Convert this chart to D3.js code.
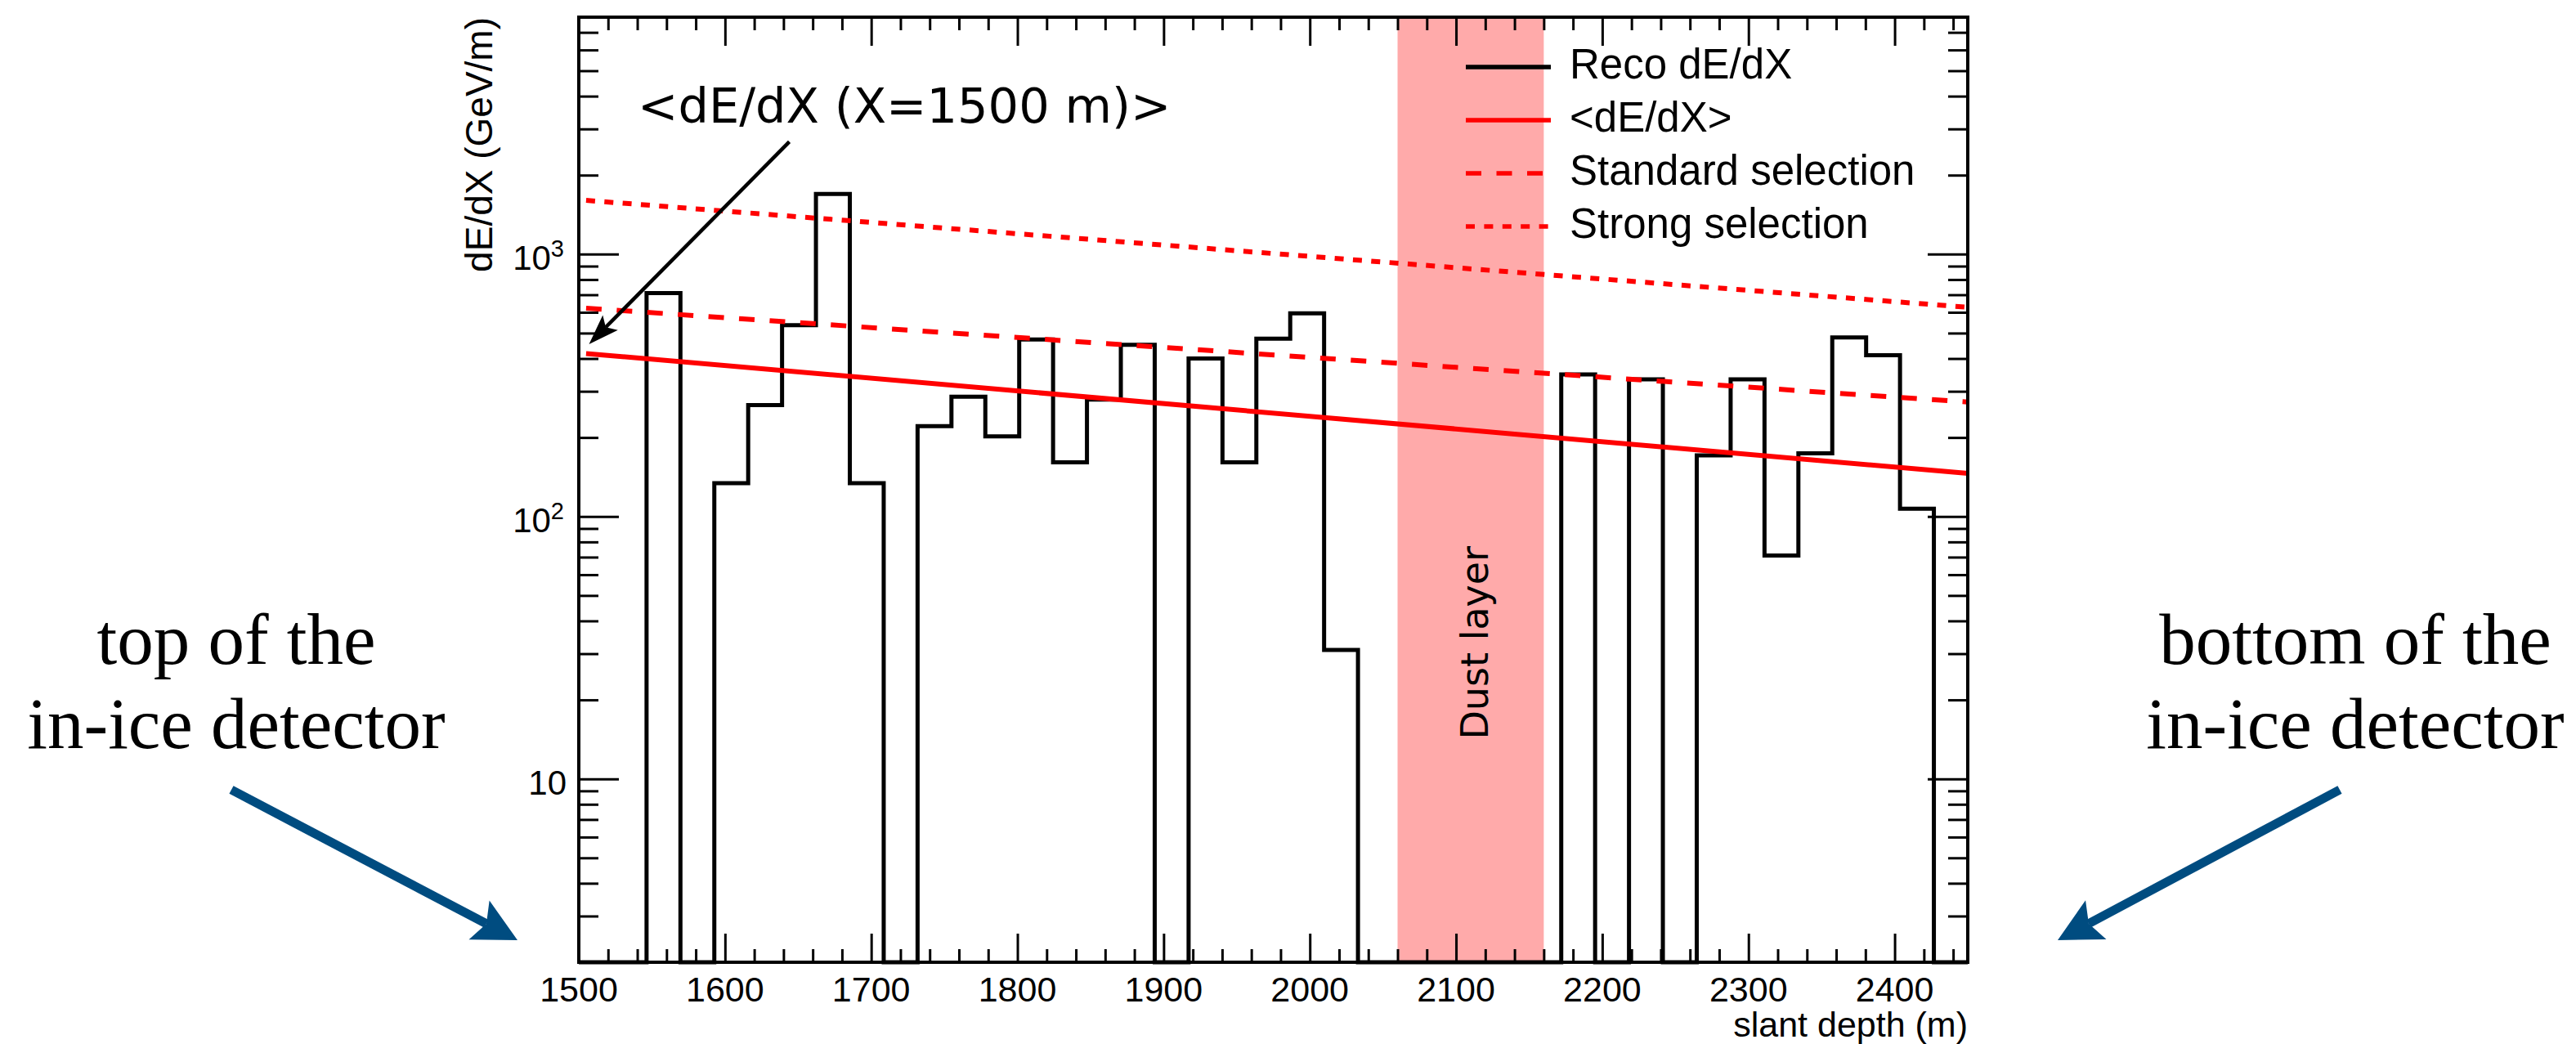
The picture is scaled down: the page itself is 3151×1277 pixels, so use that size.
<!DOCTYPE html>
<html><head><meta charset="utf-8">
<script src="https://cdn.jsdelivr.net/npm/d3@7/dist/d3.min.js"></script>
<style>html,body{margin:0;padding:0;background:#fff}svg{display:block}</style>
</head><body>
<script>
// ---------------- data ----------------
const depthRange = [1500, 2450];          // histogram range (m)
const nBins = 41;                          // bins of ~23.17 m
const recoValues = [0, 0, 710, 0, 134, 266, 536, 1694, 134, 0,
                    221, 286, 202, 473, 161, 279, 451, 0, 400, 161,
                    476, 595, 31, 0, 0, 0, 0, 0, 0, 348,
                    0, 333, 0, 171, 333, 71, 174, 481, 412, 107, 0];
const lineDepths = [1505, 2450];
const meanValues = [418, 146];        // <dE/dX>
const standardValues = [622, 273];    // standard selection
const strongValues = [1603, 627];     // strong selection
const dustLayer = [2060, 2160];
const xMajorTicks = [1500, 1600, 1700, 1800, 1900, 2000, 2100, 2200, 2300, 2400];
const yDomain = [2, 8000];
const yMajorTicks = [10, 100, 1000];
const yMajorLabels = [["10", ""], ["10", "2"], ["10", "3"]];
const legendLabels = ["Reco dE/dX", "<dE/dX>", "Standard selection", "Strong selection"];
const annotationText = "<dE/dX (X=1500 m)>";
const annotationArrow = [[1644, 2680], [1507, 454]];   // data coords: tail -> tip

// ---------------- layout ----------------
const W = 3151, H = 1277;
const P = {left: 708, right: 2407, top: 21, bottom: 1177};
const RED = "#ff0000", BLUE = "#004c80";

const svg = d3.select("body").append("svg").attr("width", W).attr("height", H)
  .style("font-family", "'Liberation Sans', Arial, sans-serif");

const x = d3.scaleLinear().domain(depthRange).range([P.left, P.right]);
const y = d3.scaleLog().domain(yDomain).range([P.bottom, P.top]);

// dust layer band
svg.append("rect")
  .attr("x", x(dustLayer[0])).attr("y", P.top)
  .attr("width", x(dustLayer[1]) - x(dustLayer[0])).attr("height", P.bottom - P.top)
  .attr("fill", "#ffaaaa");

svg.append("text")
  .attr("transform", `translate(${x((dustLayer[0] + dustLayer[1]) / 2) + 21},${y(33)}) rotate(-90)`)
  .attr("text-anchor", "middle")
  .style("font-family", "'DejaVu Sans', sans-serif")
  .style("font-size", "46px")
  .text("Dust layer");

// histogram
const binW = (depthRange[1] - depthRange[0]) / nBins;
const histPts = [];
recoValues.forEach((v, i) => {
  const x0 = depthRange[0] + i * binW, x1 = x0 + binW;
  histPts.push([x0, v], [x1, v]);
});
const yv = v => (v > 0 ? y(Math.max(v, yDomain[0])) : P.bottom);
svg.append("path")
  .attr("d", d3.line().x(d => x(d[0])).y(d => yv(d[1]))(histPts))
  .attr("fill", "none").attr("stroke", "#000").attr("stroke-width", 5)
  .attr("stroke-linejoin", "miter");

// exponential lines
const lineGen = d3.line().x(d => x(d[0])).y(d => y(d[1]));
const lineSeries = [
  {vals: strongValues, dash: "11,11.4"},
  {vals: standardValues, dash: "19,18.5"},
  {vals: meanValues, dash: null}
];
lineSeries.forEach(s => {
  svg.append("path")
    .attr("d", lineGen(lineDepths.map((d, i) => [d, s.vals[i]])))
    .attr("fill", "none").attr("stroke", RED).attr("stroke-width", 6)
    .attr("stroke-dasharray", s.dash);
});

// ---------------- axes ----------------
const xMinor = d3.range(depthRange[0], depthRange[1] + 1, 20).filter(v => v % 100 !== 0);
const yMinor = [];
[1, 10, 100, 1000].forEach(d => { for (let k = 2; k <= 9; k++) { const v = k * d; if (v > yDomain[0] && v < yDomain[1]) yMinor.push(v); } });

function styleAxis(g) {
  g.select(".domain").remove();
  g.selectAll("line").attr("stroke", "#000").attr("stroke-width", 3);
  g.selectAll("text").remove();
}
const addAxis = (gen, tr) => svg.append("g").attr("transform", tr).call(gen).call(styleAxis);
addAxis(d3.axisBottom(x).tickValues(xMinor).tickSize(-16), `translate(0,${P.bottom})`);
addAxis(d3.axisBottom(x).tickValues(xMajorTicks).tickSize(-35), `translate(0,${P.bottom})`);
addAxis(d3.axisTop(x).tickValues(xMinor).tickSize(-16), `translate(0,${P.top})`);
addAxis(d3.axisTop(x).tickValues(xMajorTicks).tickSize(-35), `translate(0,${P.top})`);
addAxis(d3.axisLeft(y).tickValues(yMinor).tickSize(-24), `translate(${P.left},0)`);
addAxis(d3.axisLeft(y).tickValues(yMajorTicks).tickSize(-49), `translate(${P.left},0)`);
addAxis(d3.axisRight(y).tickValues(yMinor).tickSize(-24), `translate(${P.right},0)`);
addAxis(d3.axisRight(y).tickValues(yMajorTicks).tickSize(-49), `translate(${P.right},0)`);

// frame
svg.append("rect").attr("x", P.left).attr("y", P.top)
  .attr("width", P.right - P.left).attr("height", P.bottom - P.top)
  .attr("fill", "none").attr("stroke", "#000").attr("stroke-width", 4);

// x tick labels
svg.append("g").selectAll("text").data(xMajorTicks).join("text")
  .attr("x", d => x(d)).attr("y", P.bottom + 48)
  .attr("text-anchor", "middle").style("font-size", "43px")
  .text(d => d);

// y tick labels
yMajorTicks.forEach((v, i) => {
  const [base, exp] = yMajorLabels[i];
  const t = svg.append("text").attr("x", exp ? 690 : 693).attr("y", y(v) + 19)
    .attr("text-anchor", "end").style("font-size", "42px");
  t.append("tspan").text(base);
  if (exp) t.append("tspan").attr("dy", -16).style("font-size", "29px").text(exp);
});

// axis titles
svg.append("text").attr("x", P.right).attr("y", 1268).attr("text-anchor", "end")
  .style("font-size", "43px").text("slant depth (m)");
svg.append("text").attr("transform", `translate(602,${P.top}) rotate(-90)`)
  .attr("text-anchor", "end").style("font-size", "46px").text("dE/dX (GeV/m)");

// ---------------- legend ----------------
const legendStyles = [
  {color: "#000", dash: null},
  {color: RED, dash: null},
  {color: RED, dash: "19,18.5"},
  {color: RED, dash: "11,11.4"}
];
const lg = svg.append("g").attr("transform", "translate(1793,82)");
legendLabels.forEach((lab, i) => {
  const row = lg.append("g").attr("transform", `translate(0,${i * 65})`);
  row.append("line").attr("x1", 0).attr("x2", 104).attr("y1", 0).attr("y2", 0)
    .attr("stroke", legendStyles[i].color).attr("stroke-width", 5.5)
    .attr("stroke-dasharray", legendStyles[i].dash);
  row.append("text").attr("x", 127).attr("y", 14).style("font-size", "51px").text(lab);
});

// ---------------- annotations ----------------
function arrow(g, p0, p1, o) {
  const dx = p1[0] - p0[0], dy = p1[1] - p0[1], L = Math.hypot(dx, dy);
  const ux = dx / L, uy = dy / L, px = -uy, py = ux;
  const at = (a, b) => [p1[0] + ux * a + px * b, p1[1] + uy * a + py * b];
  const end = at(-o.notch, 0);
  g.append("line").attr("x1", p0[0]).attr("y1", p0[1]).attr("x2", end[0]).attr("y2", end[1])
    .attr("stroke", o.color).attr("stroke-width", o.width);
  g.append("polygon").attr("fill", o.color)
    .attr("points", [p1, at(-o.len, -o.half), at(-o.notch, 0), at(-o.len, o.half)].map(p => p.join(",")).join(" "));
}
const [aTail, aTip] = annotationArrow.map(d => [x(d[0]), y(d[1])]);
arrow(svg, aTail, aTip, {color: "#000", width: 4.5, len: 37, half: 13, notch: 29});
svg.append("text").attr("x", 780).attr("y", 150)
  .style("font-family", "'DejaVu Sans', sans-serif").style("font-size", "59px")
  .text(annotationText);

// outer blue arrows and serif captions
arrow(svg, [283, 966], [633, 1150], {color: BLUE, width: 11, len: 53, half: 27, notch: 43});
arrow(svg, [2862, 966], [2517, 1150], {color: BLUE, width: 11, len: 53, half: 27, notch: 43});
const serif = [
  {cx: 289, lines: ["top of the", "in-ice detector"]},
  {cx: 2881, lines: ["bottom of the", "in-ice detector"]}
];
serif.forEach(s => {
  s.lines.forEach((l, i) => {
    svg.append("text").attr("x", s.cx).attr("y", 812 + i * 103)
      .attr("text-anchor", "middle")
      .style("font-family", "'Liberation Serif', 'Times New Roman', serif")
      .style("font-size", "89px").text(l);
  });
});
</script>
</body></html>
